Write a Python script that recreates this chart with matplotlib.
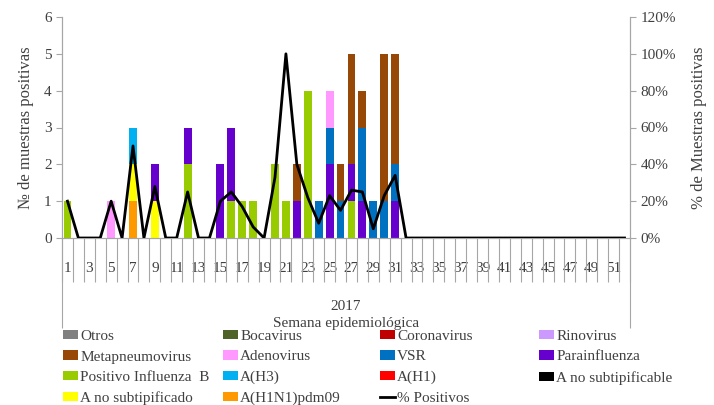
import matplotlib
matplotlib.use("Agg")
import matplotlib.pyplot as plt
from matplotlib.patches import Patch
from matplotlib.lines import Line2D

plt.rcParams["font.family"] = ["Liberation Serif", "DejaVu Serif"]

weeks = list(range(1, 53))

# casos por semana (semana: nº de muestras)
h1n1pdm09 = {7: 1}
a_no_subtipificado = {7: 1, 9: 1}
a_no_subtipificable = {}
a_h1 = {}
a_h3 = {7: 1}
influenza_b = {1: 1, 12: 2, 16: 1, 17: 1, 18: 1, 20: 2, 21: 1, 23: 4, 27: 1}
parainfluenza = {9: 1, 12: 1, 15: 2, 16: 2, 22: 1, 25: 2, 27: 1, 28: 1, 31: 1}
vsr = {24: 1, 25: 1, 26: 1, 28: 2, 29: 1, 30: 1, 31: 1}
adenovirus = {5: 1, 25: 1}
metapneumovirus = {22: 1, 26: 1, 27: 3, 28: 1, 30: 4, 31: 3}
rinovirus = {}
coronavirus = {}
bocavirus = {}
otros = {}

# % de muestras positivas
pct_positivos = {1: 20, 5: 20, 7: 50, 9: 28, 12: 25, 15: 20, 16: 25, 17: 17,
                 18: 6, 20: 33, 21: 100, 22: 40, 23: 22, 24: 8, 25: 23,
                 26: 15, 27: 26, 28: 25, 29: 5, 30: 23, 31: 34}

# orden de apilado (de abajo hacia arriba)
series = [
    ("A(H1N1)pdm09", h1n1pdm09, "#FF9900"),
    ("A no subtipificado", a_no_subtipificado, "#FFFF00"),
    ("A no subtipificable", a_no_subtipificable, "#000000"),
    ("A(H1)", a_h1, "#FF0000"),
    ("A(H3)", a_h3, "#00B0F0"),
    ("Positivo Influenza  B", influenza_b, "#99CC00"),
    ("Parainfluenza", parainfluenza, "#6600CC"),
    ("VSR", vsr, "#0070C0"),
    ("Adenovirus", adenovirus, "#FF99FF"),
    ("Metapneumovirus", metapneumovirus, "#974706"),
    ("Rinovirus", rinovirus, "#CC99FF"),
    ("Coronavirus", coronavirus, "#C00000"),
    ("Bocavirus", bocavirus, "#4F6228"),
    ("Otros", otros, "#808080"),
]
colors = {name: c for name, _, c in series}

fig = plt.figure(figsize=(7.14, 4.05), dpi=100)
ax = fig.add_axes([62 / 714, 1 - 238 / 405, 568 / 714, 221 / 405])
ax2 = ax.twinx()

bottom = [0] * len(weeks)
for name, data, color in series:
    vals = [data.get(w, 0) for w in weeks]
    ax.bar(weeks, vals, width=0.72, bottom=bottom, color=color, zorder=2)
    bottom = [b + v for b, v in zip(bottom, vals)]

pct = [pct_positivos.get(w, 0) / 100 for w in weeks]
ax2.plot(weeks, pct, color="black", lw=2, zorder=3)

ax.set_xlim(0.5, 52.5)
ax.set_ylim(0, 6)
ax2.set_ylim(0, 1.2)
ax.set_yticks(range(7))
ax2.set_yticks([i * 0.2 for i in range(7)])
ax2.set_yticklabels([f"{i * 20}%" for i in range(7)])

gray = "#A6A6A6"
for a in (ax, ax2):
    a.spines["top"].set_visible(False)
    for s in ("left", "right", "bottom"):
        a.spines[s].set_color(gray)
    a.tick_params(axis="y", colors=gray, labelcolor="#404040", labelsize=11, length=4)

odd = [w for w in weeks if w % 2 == 1]
ax.set_xticks(odd)
ax.set_xticklabels([str(w) for w in odd], fontsize=11, color="#404040")
ax.tick_params(axis="x", length=0, pad=17)

# separadores de semanas
trans = ax.get_xaxis_transform()
bounds = [w - 0.5 for w in weeks] + [52.5]
ax.vlines(bounds, -0.2, 0, transform=trans, colors=gray, lw=0.8, clip_on=False)
ax.vlines([0.5, 52.5], -0.405, 0, transform=trans, colors=gray, lw=0.8, clip_on=False)

ax.text(0.5, -0.31, "2017", transform=ax.transAxes, ha="center", va="center",
        fontsize=11, color="#404040")
ax.text(0.5, -0.385, "Semana epidemiológica", transform=ax.transAxes,
        ha="center", va="center", fontsize=11, color="#404040")

ax.set_ylabel("№ de muestras positivas", fontsize=12, color="#404040")
ax.yaxis.set_label_coords(-0.05, 0.5)
ax2.set_ylabel("% de Muestras positivas", fontsize=12, color="#404040")
ax2.yaxis.set_label_coords(1.107, 0.5)

# leyenda en 4 columnas de igual ancho
legend_cols = [
    ["Otros", "Metapneumovirus", "Positivo Influenza  B", "A no subtipificado"],
    ["Bocavirus", "Adenovirus", "A(H3)", "A(H1N1)pdm09"],
    ["Coronavirus", "VSR", "A(H1)", "% Positivos"],
    ["Rinovirus", "Parainfluenza", "A no subtipificable"],
]
col_x = [63, 223, 380, 539]
for xs, names in zip(col_x, legend_cols):
    handles = []
    for n in names:
        if n == "% Positivos":
            handles.append(Line2D([], [], color="black", lw=2))
        else:
            handles.append(Patch(facecolor=colors[n]))
    fig.legend(handles, names, loc="upper left", bbox_to_anchor=(xs / 714, 1 - 330 / 405),
               frameon=False, fontsize=11, handlelength=1.0, handleheight=0.55,
               handletextpad=0.13, labelspacing=0.49, borderpad=0, borderaxespad=0,
               labelcolor="#404040")

fig.savefig("out.png", dpi=100)
